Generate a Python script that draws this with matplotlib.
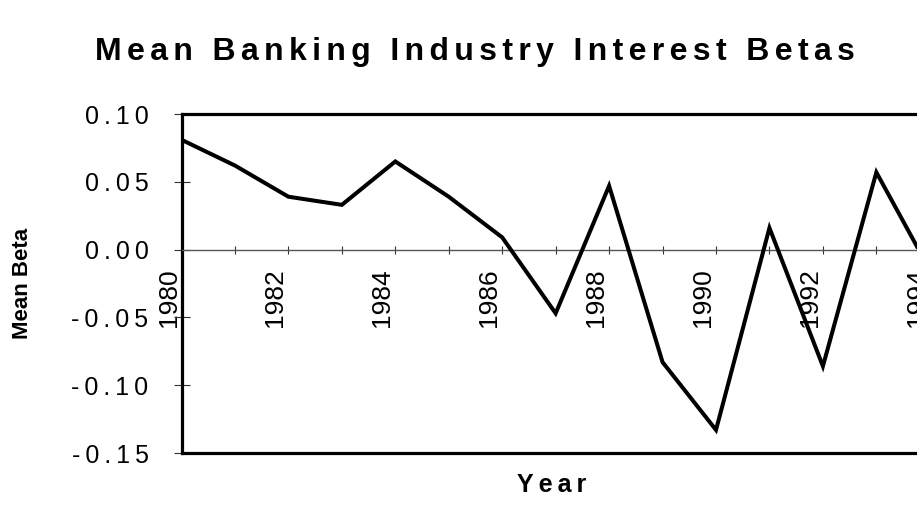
import matplotlib
matplotlib.use("Agg")
import matplotlib.pyplot as plt
from matplotlib import font_manager as fm
from matplotlib.lines import Line2D
from matplotlib.transforms import ScaledTranslation

# ---- data ----
years = [1980, 1981, 1982, 1983, 1984, 1985, 1986, 1987, 1988, 1989,
         1990, 1991, 1992, 1993, 1994]
mean_beta = [0.081, 0.062, 0.039, 0.033, 0.065, 0.039, 0.009, -0.047, 0.047,
             -0.083, -0.133, 0.016, -0.086, 0.057, -0.015]
ytick_vals = [-0.15, -0.10, -0.05, 0.00, 0.05, 0.10]
ytick_labels = ["-0.15", "-0.10", "-0.05", "0.00", "0.05", "0.10"]
xtick_label_years = [1980, 1982, 1984, 1986, 1988, 1990, 1992, 1994]
title = "Mean Banking Industry Interest Betas"
xlabel = "Year"
ylabel = "Mean Beta"


def has_font(name):
    try:
        fm.findfont(fm.FontProperties(family=name), fallback_to_default=False)
        return True
    except Exception:
        return False


narrow = "Liberation Sans Narrow" if has_font("Liberation Sans Narrow") else None
SANS = ["Liberation Sans", "DejaVu Sans"]


def spaced(s, sep="\u2009"):
    return sep.join(s)


W, H, DPI = 917, 511, 100
fig = plt.figure(figsize=(W / DPI, H / DPI), dpi=DPI)
fig.patch.set_facecolor("white")

left = 181.5 / W
bottom = 1 - 453 / H
height = (453 - 114) / H
px_per_year = 53.45
width = 15 * px_per_year / W
ax = fig.add_axes([left, bottom, width, height])

ax.plot(years, mean_beta, color="black", lw=2.9, solid_joinstyle="miter",
        solid_capstyle="butt", zorder=3)

ax.set_xlim(1980, 1995)
ax.set_ylim(-0.15, 0.10)

# frame
for s in ["top", "left", "right"]:
    ax.spines[s].set_linewidth(2.3)
    ax.spines[s].set_color("black")
ax.add_line(Line2D([0, 1], [0, 0], transform=ax.transAxes, color="black",
                   lw=2.3, clip_on=False, zorder=4))

# x axis at zero
ax.spines["bottom"].set_position(("data", 0))
ax.spines["bottom"].set_color("#555555")
ax.spines["bottom"].set_linewidth(1.0)

ax.set_xticks(years, minor=True)
ax.set_xticks(xtick_label_years)
xfont = dict(family=narrow, size=21) if narrow else dict(family="Liberation Sans", size=19)
ax.set_xticklabels([str(y) for y in xtick_label_years], rotation=90, **xfont)
ax.tick_params(axis="x", which="both", direction="inout", length=5.8, width=0.8,
               color="#333333", pad=10.4)
off = ScaledTranslation(-13 / DPI, 0, fig.dpi_scale_trans)
for lab in ax.get_xticklabels():
    lab.set_transform(lab.get_transform() + off)

ax.set_yticks(ytick_vals)
ax.set_yticklabels([spaced(t) for t in ytick_labels], family=SANS, size=18)
ax.tick_params(axis="y", direction="inout", length=12.2, width=0.8,
               color="#333333", pad=17.6)

fig.text(475 / W, 1 - 60 / H, spaced(title, "\u2006"), ha="center", va="baseline",
         family=SANS, weight="bold", size=23)
fig.text(552 / W, 1 - 492 / H, spaced(xlabel), ha="center", va="baseline",
         family=SANS, weight="bold", size=18)
fig.text(23 / W, 1 - 283 / H, ylabel, ha="center", va="center", rotation=90,
         family="Liberation Sans", weight="bold", size=16)

fig.savefig("out.png", dpi=DPI)
